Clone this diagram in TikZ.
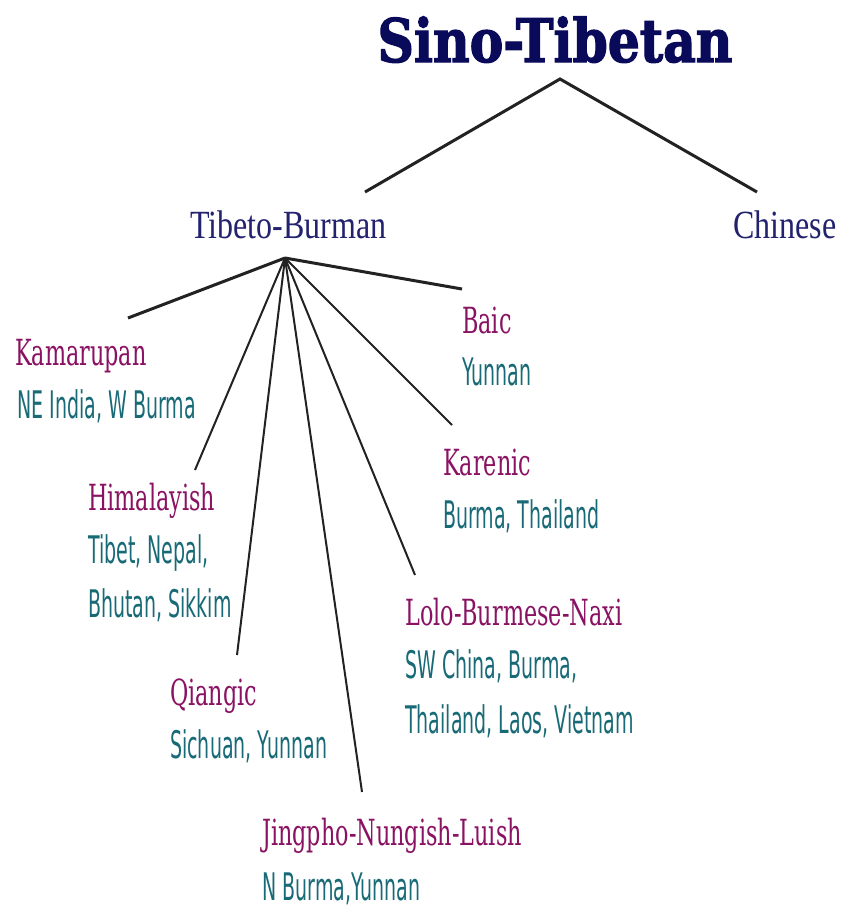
\documentclass[tikz,border=0pt]{standalone}
\usepackage{fontspec}
\newfontfamily\titlefont[FakeStretch=0.84,FakeBold=2]{DejaVu Serif}
\newfontfamily\branchfont[FakeStretch=0.8]{Liberation Serif}
\newfontfamily\namefont[FakeStretch=0.62]{DejaVu Serif}
\newfontfamily\regionfont[FakeStretch=0.5]{DejaVu Sans}
\definecolor{titlecol}{HTML}{0A0A5A}
\definecolor{branchcol}{HTML}{22226E}
\definecolor{namecol}{HTML}{8A1262}
\definecolor{regioncol}{HTML}{186A76}
\definecolor{linecol}{HTML}{222222}
\tikzset{
  title/.style={anchor=base, inner sep=0pt, text=titlecol, font=\titlefont\bfseries\fontsize{60}{60}\selectfont},
  branch/.style={anchor=base west, inner sep=0pt, text=branchcol, font=\branchfont\fontsize{40}{40}\selectfont},
  lang/.style={anchor=base west, inner sep=0pt, text=namecol, font=\namefont\fontsize{36}{36}\selectfont},
  region/.style={anchor=base west, inner sep=0pt, text=regioncol, font=\regionfont\fontsize{38}{38}\selectfont},
  thick link/.style={draw=linecol, line width=3pt},
  thin link/.style={draw=linecol, line width=2pt},
}
\begin{document}
\begin{tikzpicture}[x=1pt,y=-1pt]
\useasboundingbox[fill=white] (0,0) rectangle (843,919);
% labels
\node[title] (st) at (555,62) {Sino-Tibetan};
\node[branch] (tb) at (190,238) {Tibeto-Burman};
\node[branch] (zh) at (733,238) {Chinese};
\node[lang] (kam) at (15,365) {Kamarupan};
\node[region] (kamr) at (17,418) {NE India, W Burma};
\node[lang] (baic) at (462,333) {Baic};
\node[region] (baicr) at (462,385) {Yunnan};
\node[lang] (him) at (88,510) {Himalayish};
\node[region] (himr1) at (88,563) {Tibet, Nepal,};
\node[region] (himr2) at (88,617) {Bhutan, Sikkim};
\node[lang] (kar) at (443,475) {Karenic};
\node[region] (karr) at (443,528) {Burma, Thailand};
\node[lang] (lolo) at (405,625) {Lolo-Burmese-Naxi};
\node[region] (lolor1) at (405,678) {SW China, Burma,};
\node[region] (lolor2) at (405,733) {Thailand, Laos, Vietnam};
\node[lang] (qia) at (170,705) {Qiangic};
\node[region] (qiar) at (170,758) {Sichuan, Yunnan};
\node[lang] (jing) at (262,845) {Jingpho-Nungish-Luish};
\node[region] (jingr) at (262,900) {N Burma,Yunnan};
% connector points
\coordinate (stH) at (560,79);
\coordinate (tbTop) at (365,192);
\coordinate (zhTop) at (757,192);
\coordinate (tbH) at (285,258);
\coordinate (kamE) at (128,318);
\coordinate (baicE) at (462,289);
\coordinate (himE) at (195,470);
\coordinate (qiaE) at (237,655);
\coordinate (jingE) at (362,792);
\coordinate (loloE) at (415,575);
\coordinate (karE) at (452,425);
% connectors
\draw[thick link, line join=miter] (tbTop) -- (stH) -- (zhTop);
\draw[thick link] (tbH) -- (kamE);
\draw[thick link] (tbH) -- (baicE);
\draw[thin link] (tbH) -- (himE);
\draw[thin link] (tbH) -- (qiaE);
\draw[thin link] (tbH) -- (jingE);
\draw[thin link] (tbH) -- (loloE);
\draw[thin link] (tbH) -- (karE);
\end{tikzpicture}
\end{document}
